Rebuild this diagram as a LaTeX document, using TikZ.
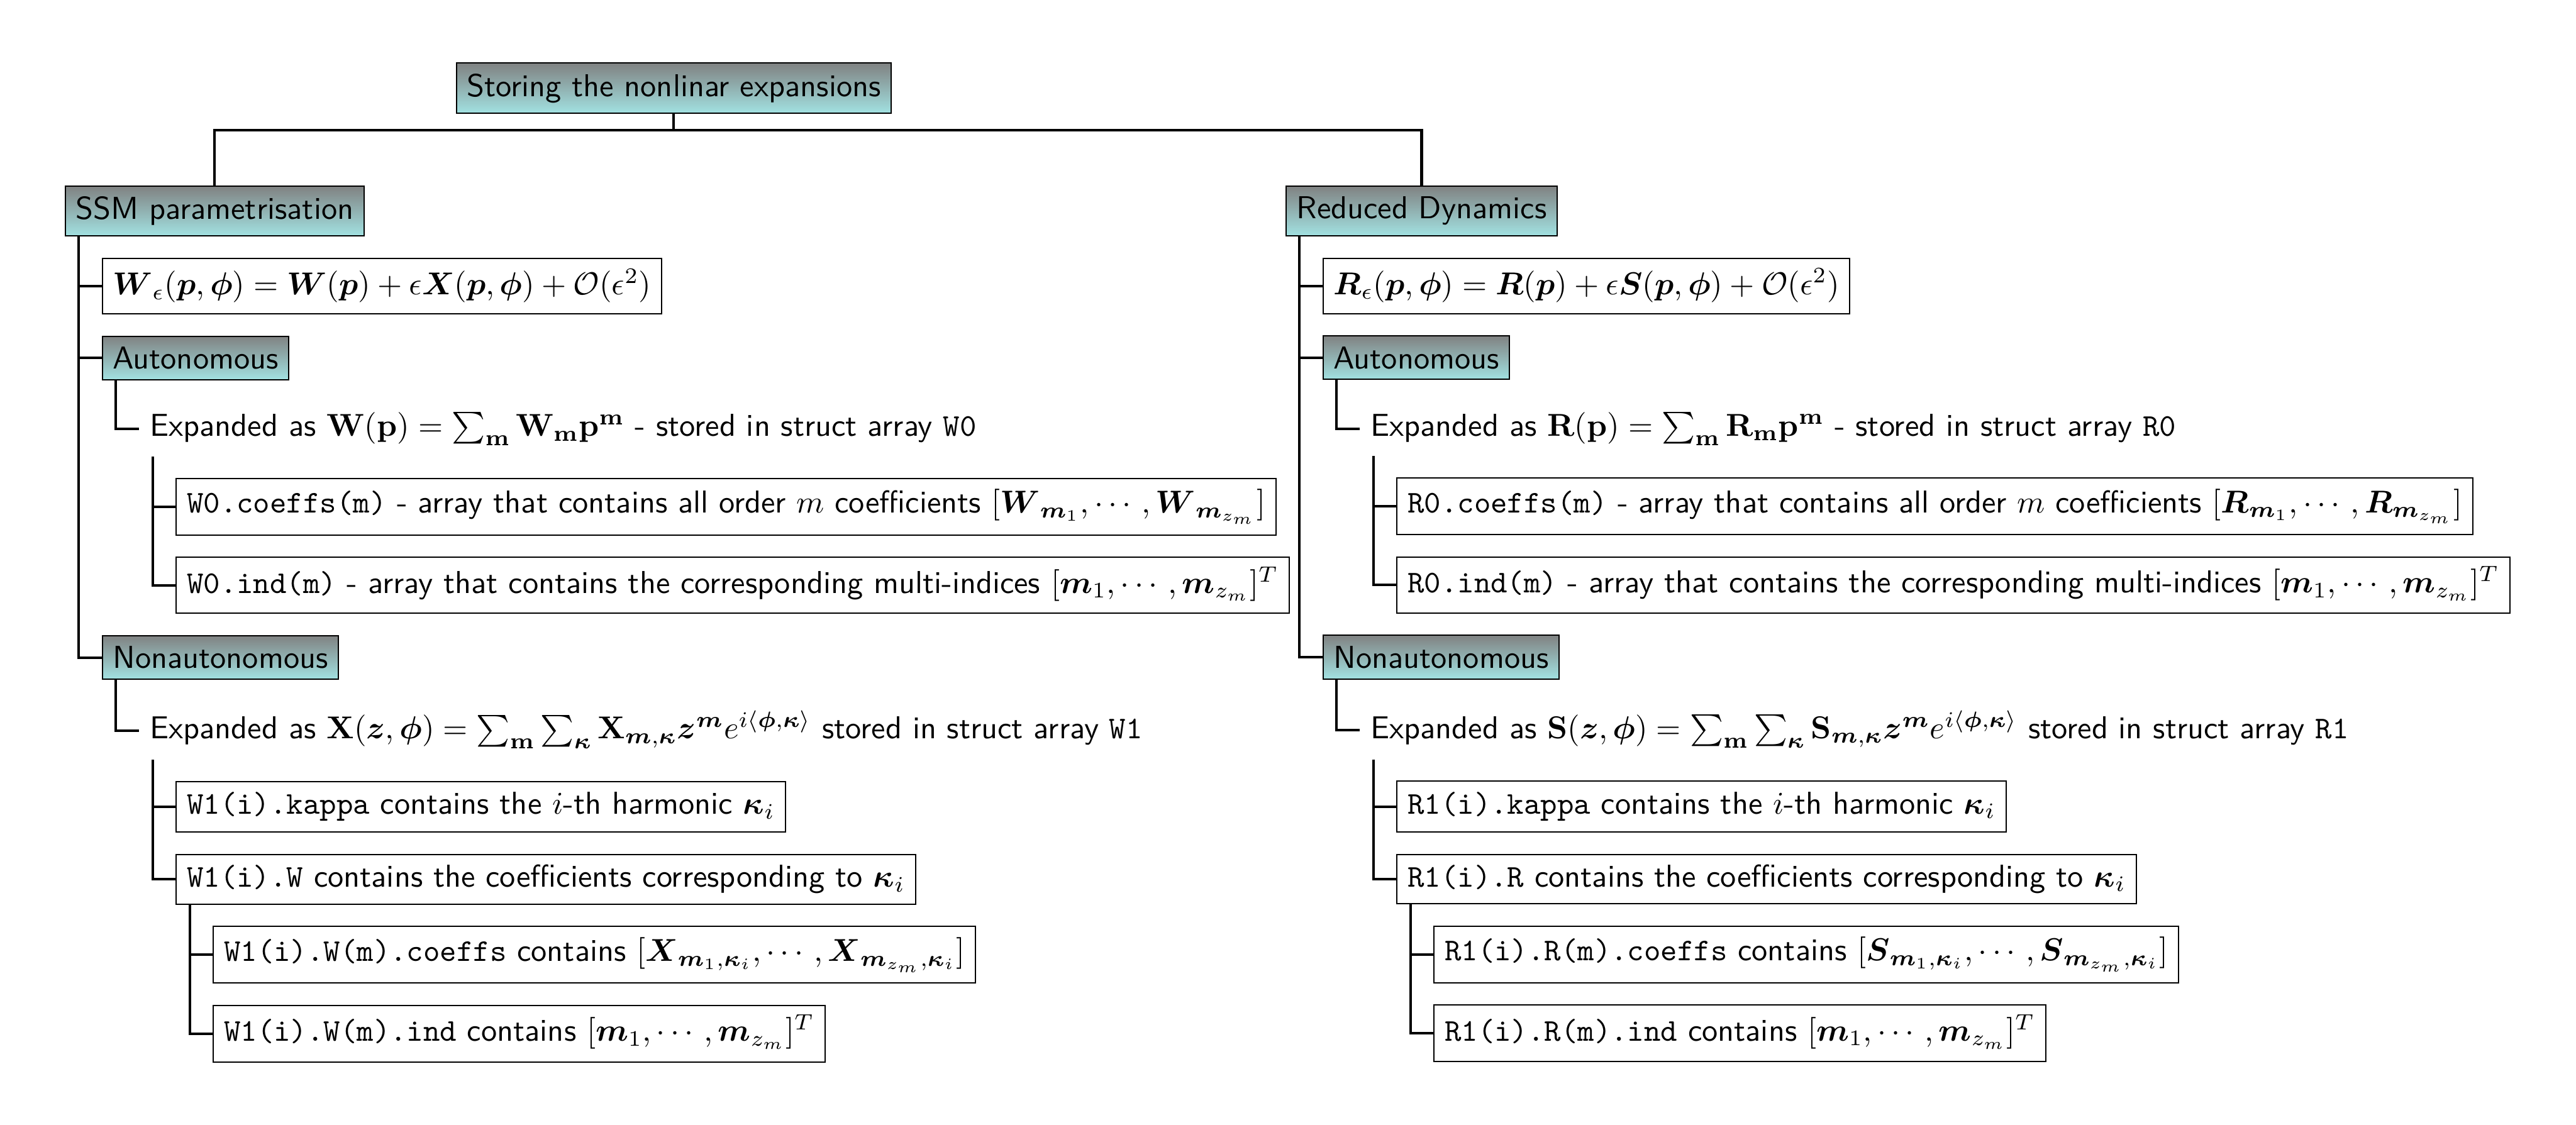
\documentclass[tikz,border=0pt]{standalone}
\usepackage{amsmath}
\usepackage{amssymb}
\usepackage{tikz}
\usetikzlibrary{shapes,positioning,calc}
\renewcommand{\familydefault}{\sfdefault}
\newcommand{\bsym}[1]{\boldsymbol{#1}}
\definecolor{boxtop}{RGB}{128,130,130}
\definecolor{boxbot}{RGB}{162,226,226}
\tikzstyle{head} = [rectangle, draw=black, top color=boxtop, bottom color=boxbot, text=black]
\tikzstyle{entry} = [rectangle, draw=black, fill=white]
\tikzstyle{codebox} = [entry, text height=6.94pt]
\tikzstyle{leaf} = [rectangle]
\tikzstyle{link} = [thick]

\begin{document}
\begin{tikzpicture}

\useasboundingbox (-20.4pt,58.6pt) rectangle (793.1pt,-296.7pt);

% Raiz
\node (root) [head] at (192.4pt,30.7pt) {Storing the nonlinar expansions};

% Primeira coluna: SSM parametrisation
\node (ssm) [head, anchor=north west] at (0,0) {SSM parametrisation};
\node (wEps) [entry, text height=8.1pt, text depth=2.7pt, below right=6.7pt and 11.7pt of ssm.south west] {$\bsym{W}_{\epsilon}(\bsym{p},\bsym{\phi}) = \bsym{W}(\bsym{p}) + \epsilon\bsym{X}(\bsym{p},\bsym{\phi}) + \mathcal{O}(\epsilon^2)$};
\node (wAut) [head, below right=6.7pt and 0pt of wEps.south west] {Autonomous};
\node (wExp) [leaf, text height=7.4pt, text depth=2.85pt, below right=6.7pt and 11.7pt of wAut.south west] {Expanded as $\mathbf{W}(\mathbf{p}) = \sum_{\mathbf{m}}\mathbf{W}_{\mathbf{m}}\mathbf{p}^{\mathbf{m}}$ - stored in struct array \texttt{W0}};
\node (wCoef) [entry, text height=7.6pt, text depth=3.6pt, below right=6.7pt and 11.7pt of wExp.south west] {\texttt{W0.coeffs(m)} - array that contains all order $m$ coefficients $[\bsym{W}_{\bsym{m}_1},\cdots,\bsym{W}_{\bsym{m}_{z_m}}]$};
\node (wInd) [entry, text height=8pt, text depth=3pt, below right=6.7pt and 0pt of wCoef.south west] {\texttt{W0.ind(m)} - array that contains the corresponding multi-indices $[\bsym{m}_1,\cdots,\bsym{m}_{z_m}]^T$};
\node (wNon) [head, anchor=north west, yshift=-6.7pt] at (wAut.west |- wInd.south) {Nonautonomous};
\node (wExp1) [leaf, text height=8.4pt, text depth=3.1pt, below right=6.7pt and 11.7pt of wNon.south west] {Expanded as $\mathbf{X}(\bsym{z},\bsym{\phi}) = \sum_{\mathbf{m}}\sum_{\bsym{\kappa}}\mathbf{X}_{\bsym{m},\bsym{\kappa}}\bsym{z}^{\bsym{m}}e^{i\langle\bsym{\phi},\bsym{\kappa}\rangle}$ stored in struct array \texttt{W1}};
\node (wKap) [codebox, text depth=2.35pt, below right=6.7pt and 11.7pt of wExp1.south west] {\texttt{W1(i).kappa} contains the $i$-th harmonic $\bsym{\kappa}_i$};
\node (wCf1) [codebox, text depth=2pt, below right=6.7pt and 0pt of wKap.south west] {\texttt{W1(i).W} contains the coefficients corresponding to $\bsym{\kappa}_i$};
\node (wCfm) [entry, text height=7.6pt, text depth=3.55pt, below right=6.7pt and 11.7pt of wCf1.south west] {\texttt{W1(i).W(m).coeffs} contains $[\bsym{X}_{\bsym{m}_1,\bsym{\kappa}_i},\cdots,\bsym{X}_{\bsym{m}_{z_m},\bsym{\kappa}_i}]$};
\node (wIdm) [entry, text height=8pt, text depth=3.15pt, below right=6.7pt and 0pt of wCfm.south west] {\texttt{W1(i).W(m).ind} contains $[\bsym{m}_1,\cdots,\bsym{m}_{z_m}]^T$};

% Segunda coluna: Reduced Dynamics
\node (red) [head, anchor=north west] at (385.5pt,0) {Reduced Dynamics};
\node (rEps) [entry, text height=8.1pt, text depth=2.7pt, below right=6.7pt and 11.7pt of red.south west] {$\bsym{R}_{\epsilon}(\bsym{p},\bsym{\phi}) = \bsym{R}(\bsym{p}) + \epsilon\bsym{S}(\bsym{p},\bsym{\phi}) + \mathcal{O}(\epsilon^2)$};
\node (rAut) [head, below right=6.7pt and 0pt of rEps.south west] {Autonomous};
\node (rExp) [leaf, text height=7.4pt, text depth=2.85pt, below right=6.7pt and 11.7pt of rAut.south west] {Expanded as $\mathbf{R}(\mathbf{p}) = \sum_{\mathbf{m}}\mathbf{R}_{\mathbf{m}}\mathbf{p}^{\mathbf{m}}$ - stored in struct array \texttt{R0}};
\node (rCoef) [entry, text height=7.6pt, text depth=3.6pt, below right=6.7pt and 11.7pt of rExp.south west] {\texttt{R0.coeffs(m)} - array that contains all order $m$ coefficients $[\bsym{R}_{\bsym{m}_1},\cdots,\bsym{R}_{\bsym{m}_{z_m}}]$};
\node (rInd) [entry, text height=8pt, text depth=3pt, below right=6.7pt and 0pt of rCoef.south west] {\texttt{R0.ind(m)} - array that contains the corresponding multi-indices $[\bsym{m}_1,\cdots,\bsym{m}_{z_m}]^T$};
\node (rNon) [head, anchor=north west, yshift=-6.7pt] at (rAut.west |- rInd.south) {Nonautonomous};
\node (rExp1) [leaf, text height=8.4pt, text depth=3.1pt, below right=6.7pt and 11.7pt of rNon.south west] {Expanded as $\mathbf{S}(\bsym{z},\bsym{\phi}) = \sum_{\mathbf{m}}\sum_{\bsym{\kappa}}\mathbf{S}_{\bsym{m},\bsym{\kappa}}\bsym{z}^{\bsym{m}}e^{i\langle\bsym{\phi},\bsym{\kappa}\rangle}$ stored in struct array \texttt{R1}};
\node (rKap) [codebox, text depth=2.35pt, below right=6.7pt and 11.7pt of rExp1.south west] {\texttt{R1(i).kappa} contains the $i$-th harmonic $\bsym{\kappa}_i$};
\node (rCf1) [codebox, text depth=2pt, below right=6.7pt and 0pt of rKap.south west] {\texttt{R1(i).R} contains the coefficients corresponding to $\bsym{\kappa}_i$};
\node (rCfm) [entry, text height=7.6pt, text depth=3.55pt, below right=6.7pt and 11.7pt of rCf1.south west] {\texttt{R1(i).R(m).coeffs} contains $[\bsym{S}_{\bsym{m}_1,\bsym{\kappa}_i},\cdots,\bsym{S}_{\bsym{m}_{z_m},\bsym{\kappa}_i}]$};
\node (rIdm) [entry, text height=8pt, text depth=3.15pt, below right=6.7pt and 0pt of rCfm.south west] {\texttt{R1(i).R(m).ind} contains $[\bsym{m}_1,\cdots,\bsym{m}_{z_m}]^T$};

% Conexões da raiz
\draw [link] (root.south) -- ++(0,-5.1pt) -| (ssm.north);
\draw [link] (root.south) -- ++(0,-5.1pt) -| (red.north);

% Conexões internas SSM parametrisation
\draw [link] ([xshift=4.4pt]ssm.south west) |- (wEps.west);
\draw [link] ([xshift=4.4pt]ssm.south west) |- (wAut.west);
\draw [link] ([xshift=4.4pt]ssm.south west) |- (wNon.west);
\draw [link] ([xshift=4.4pt]wAut.south west) |- (wExp.west);
\draw [link] ([xshift=4.4pt]wExp.south west) |- (wCoef.west);
\draw [link] ([xshift=4.4pt]wExp.south west) |- (wInd.west);
\draw [link] ([xshift=4.4pt]wNon.south west) |- (wExp1.west);
\draw [link] ([xshift=4.4pt]wExp1.south west) |- (wKap.west);
\draw [link] ([xshift=4.4pt]wExp1.south west) |- (wCf1.west);
\draw [link] ([xshift=4.4pt]wCf1.south west) |- (wCfm.west);
\draw [link] ([xshift=4.4pt]wCf1.south west) |- (wIdm.west);

% Conexões internas Reduced Dynamics
\draw [link] ([xshift=4.4pt]red.south west) |- (rEps.west);
\draw [link] ([xshift=4.4pt]red.south west) |- (rAut.west);
\draw [link] ([xshift=4.4pt]red.south west) |- (rNon.west);
\draw [link] ([xshift=4.4pt]rAut.south west) |- (rExp.west);
\draw [link] ([xshift=4.4pt]rExp.south west) |- (rCoef.west);
\draw [link] ([xshift=4.4pt]rExp.south west) |- (rInd.west);
\draw [link] ([xshift=4.4pt]rNon.south west) |- (rExp1.west);
\draw [link] ([xshift=4.4pt]rExp1.south west) |- (rKap.west);
\draw [link] ([xshift=4.4pt]rExp1.south west) |- (rCf1.west);
\draw [link] ([xshift=4.4pt]rCf1.south west) |- (rCfm.west);
\draw [link] ([xshift=4.4pt]rCf1.south west) |- (rIdm.west);

\end{tikzpicture}
\end{document}
